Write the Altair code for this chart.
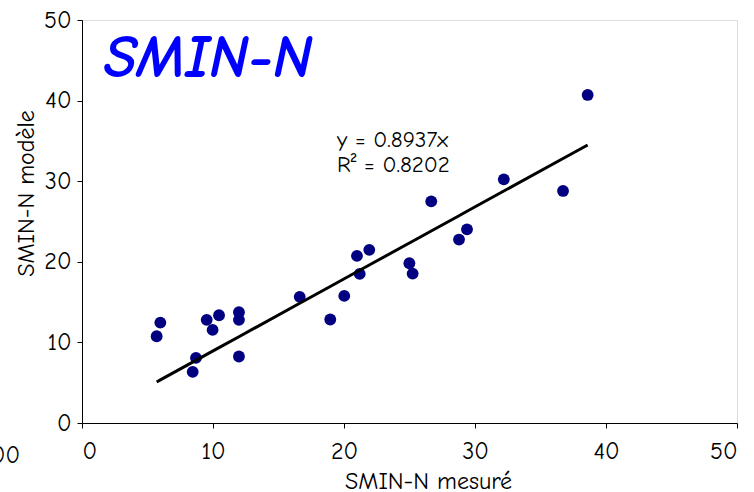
import altair as alt
import pandas as pd

measured = [5.70, 5.98, 8.45, 8.70, 9.52, 9.97, 10.46, 11.98, 11.98, 11.98, 16.62, 18.95,
            20.02, 20.99, 21.20, 21.93, 24.99, 25.24, 26.66, 28.78, 29.39, 32.20, 36.72, 38.60]
model = [10.76, 12.46, 6.35, 8.08, 12.80, 11.55, 13.37, 13.74, 12.80, 8.25, 15.65, 12.84,
         15.77, 20.73, 18.50, 21.48, 19.82, 18.54, 27.50, 22.76, 24.03, 30.23, 28.79, 40.70]
slope = 0.8937
r2 = 0.8202
title_text = ["SMIN-N"]
eq_line1 = ["y = 0.8937x"]
eq_line2 = ["R\u00b2 = 0.8202"]
stray_label = ["00"]
ticks = [0, 10, 20, 30, 40, 50]

FONT = "Comic Sans MS, Comic Neue, DejaVu Sans, sans-serif"

df = pd.DataFrame({"measured": measured, "model": model})

xs = alt.Scale(domain=[0, 50], nice=False, zero=True)
ys = alt.Scale(domain=[0, 50], nice=False, zero=True)

base = alt.Chart(df)

points = base.mark_circle(size=140, color="#000080", opacity=1).encode(
    x=alt.X("measured:Q", scale=xs, axis=alt.Axis(
        values=ticks, title="SMIN-N mesuré", grid=False, domainColor="black",
        tickColor="black", tickSize=5, labelFont=FONT, labelFontSize=24,
        labelColor="black", labelPadding=11, titleFont=FONT, titleFontSize=24,
        titleFontWeight="normal", titleColor="black", titleX=346, titleY=46,
        titleAlign="center", titleBaseline="top")),
    y=alt.Y("model:Q", scale=ys, axis=alt.Axis(
        values=ticks, title="SMIN-N modèle", grid=False, domainColor="black",
        tickColor="black", tickSize=5, labelFont=FONT, labelFontSize=24,
        labelColor="black", labelPadding=6, titleFont=FONT, titleFontSize=24,
        titleFontWeight="normal", titleColor="black", titleX=-56, titleY=173,
        titleAngle=-90, titleAlign="center", titleBaseline="middle")),
)

trend = base.transform_calculate(fit=f"{slope} * datum.measured").mark_line(
    color="black", strokeWidth=3).encode(
    x=alt.X("measured:Q", scale=xs),
    y=alt.Y("fit:Q", scale=ys),
)

title_mark = alt.Chart(pd.DataFrame({"t": title_text})).mark_text(
    font=FONT, fontSize=60, fontWeight="bold", fontStyle="italic", color="#0000FF",
    align="left", baseline="middle").encode(
    x=alt.value(22), y=alt.value(39), text="t:N")

eq1 = alt.Chart(pd.DataFrame({"t": eq_line1})).mark_text(
    font=FONT, fontSize=23, color="black", align="left", baseline="middle").encode(
    x=alt.value(255), y=alt.value(120), text="t:N")

eq2 = alt.Chart(pd.DataFrame({"t": eq_line2})).mark_text(
    font=FONT, fontSize=23, color="black", align="left", baseline="middle").encode(
    x=alt.value(255), y=alt.value(145), text="t:N")

stray = alt.Chart(pd.DataFrame({"t": stray_label})).mark_text(
    font=FONT, fontSize=24, color="black", align="right", baseline="middle").encode(
    x=alt.value(-62), y=alt.value(436), text="t:N")

chart = alt.layer(points, trend, title_mark, eq1, eq2, stray).properties(
    width=655, height=403,
    autosize=alt.AutoSizeParams(type="none"),
    padding={"left": 82, "top": 20, "right": 17, "bottom": 69},
).configure_view(stroke=None).configure(background="white")

chart.save("out.html", embed_options={"renderer": "svg", "actions": False})
